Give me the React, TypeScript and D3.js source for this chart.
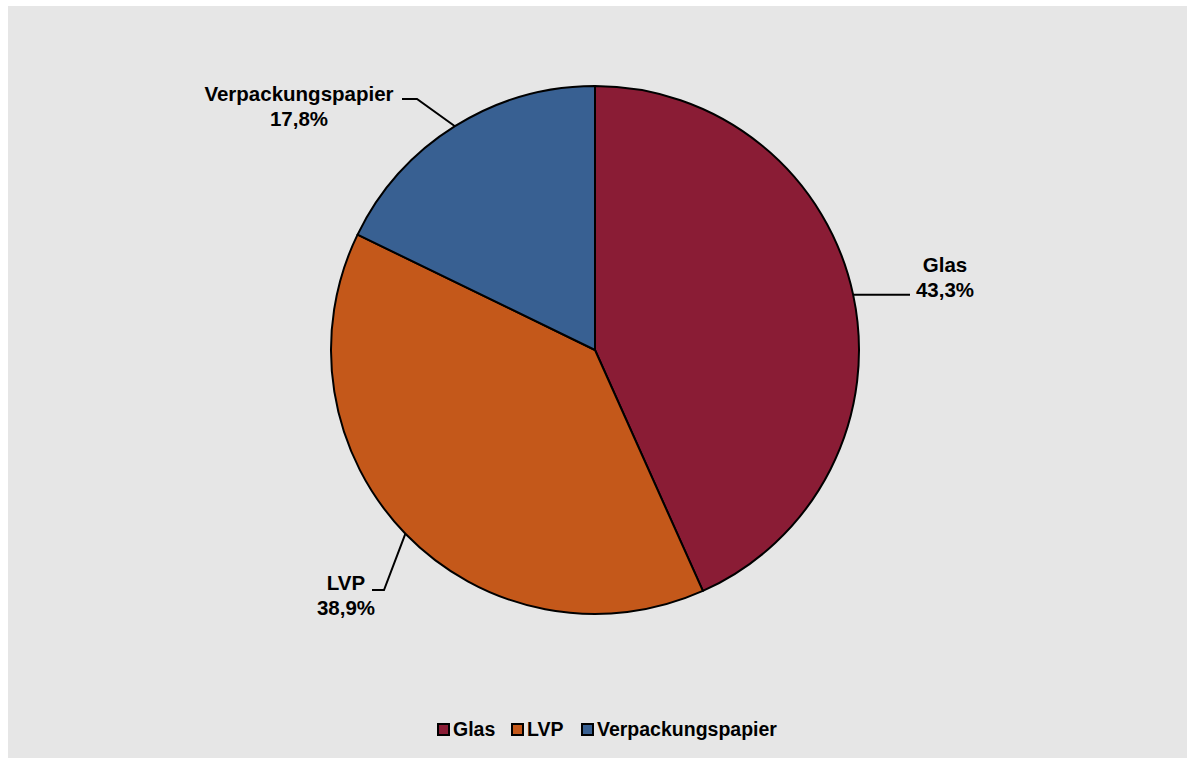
import React from "react";
import * as d3 from "d3";

const categories = ["Glas", "LVP", "Verpackungspapier"];
const values = [43.3, 38.9, 17.8];
const valueLabels = ["43,3%", "38,9%", "17,8%"];
const colors = ["#8A1C35", "#C4581A", "#386092"];

const W = 1187;
const H = 758;
const cx = 595;
const cy = 350;
const R = 264;
const FONT = "'Liberation Sans', Arial, sans-serif";

// label layout: elbow point, end of horizontal, text anchor position
const labelLayout = [
  { elbow: null as null | [number, number], endX: 910, tx: 945, ty: 272, anchor: "middle" },
  { elbow: [384, 590] as [number, number], endX: 372, tx: 346, ty: 590, anchor: "middle" },
  { elbow: [417, 99] as [number, number], endX: 402, tx: 299, ty: 101, anchor: "middle" },
];

export default function App() {
  const data = categories.map((c, i) => ({ c, v: values[i], i }));
  const pie = d3.pie<any>().value((d) => d.v).sort(null);
  const arcs = pie(data);
  const arcGen = d3.arc<any>().innerRadius(0).outerRadius(R);

  const legendX = [438, 512, 582];

  return (
    <div style={{ position: "absolute", left: 0, top: 0, width: W, height: H, background: "#fff", overflow: "hidden" }}>
      <svg width={W} height={H} style={{ display: "block" }}>
        <rect x={8} y={6} width={W - 8} height={H - 6} fill="#e6e6e6" />
        <g transform={`translate(${cx},${cy})`}>
          {arcs.map((a, i) => (
            <path key={i} d={arcGen(a) || ""} fill={colors[i]} stroke="#000" strokeWidth={2} strokeLinejoin="round" />
          ))}
        </g>
        {arcs.map((a, i) => {
          const mid = (a.startAngle + a.endAngle) / 2;
          const px = cx + R * Math.sin(mid);
          const py = cy - R * Math.cos(mid);
          const L = labelLayout[i];
          let pts: [number, number][];
          if (L.elbow) {
            pts = [[px, py], L.elbow, [L.endX, L.elbow[1]]];
          } else {
            pts = [[px, py], [L.endX, py]];
          }
          const line = d3.line()(pts) || "";
          return (
            <g key={i}>
              <path d={line} fill="none" stroke="#000" strokeWidth={2} />
              <text x={L.tx} y={L.ty} textAnchor={L.anchor as any} fontFamily={FONT} fontWeight="bold" fontSize={20.5} fill="#000">
                {categories[i]}
              </text>
              <text x={L.tx} y={L.ty + 25} textAnchor={L.anchor as any} fontFamily={FONT} fontWeight="bold" fontSize={20.5} fill="#000">
                {valueLabels[i]}
              </text>
            </g>
          );
        })}
        {categories.map((c, i) => (
          <g key={c}>
            <rect x={legendX[i]} y={724} width={11} height={11} fill={colors[i]} stroke="#000" strokeWidth={2} />
            <text x={legendX[i] + 15} y={736} fontFamily={FONT} fontWeight="bold" fontSize={19.5} fill="#000">
              {c}
            </text>
          </g>
        ))}
      </svg>
    </div>
  );
}
